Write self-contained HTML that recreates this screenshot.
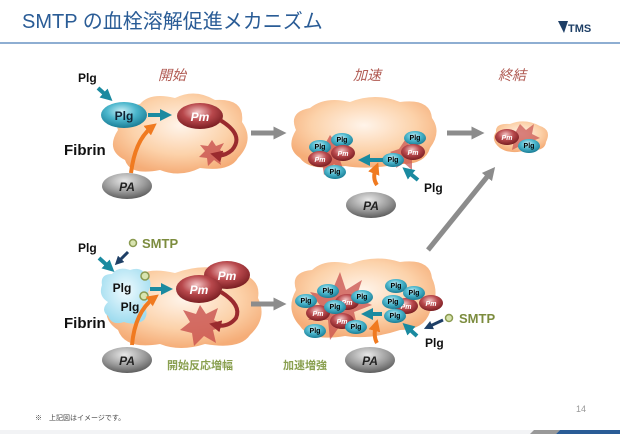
<!DOCTYPE html>
<html><head><meta charset="utf-8"><style>
body{margin:0;width:620px;height:434px;overflow:hidden;background:#fff;font-family:"Liberation Sans","Noto Sans CJK JP",sans-serif}
</style></head><body>
<svg width="620" height="434" viewBox="0 0 620 434" xmlns="http://www.w3.org/2000/svg" font-family="Liberation Sans, Noto Sans CJK JP, sans-serif">
<defs>
<radialGradient id="cl" cx="50%" cy="40%" r="60%"><stop offset="0" stop-color="#fff4ea"/><stop offset="0.6" stop-color="#fcd2aa"/><stop offset="1" stop-color="#f5ad78"/></radialGradient>
<radialGradient id="pl" cx="45%" cy="35%" r="65%"><stop offset="0" stop-color="#c8eef6"/><stop offset="0.5" stop-color="#4bb6cc"/><stop offset="1" stop-color="#1a7d96"/></radialGradient>
<radialGradient id="pm" cx="45%" cy="35%" r="65%"><stop offset="0" stop-color="#f4c6c6"/><stop offset="0.5" stop-color="#b8484c"/><stop offset="1" stop-color="#7a1e22"/></radialGradient>
<radialGradient id="pa" cx="45%" cy="30%" r="70%"><stop offset="0" stop-color="#e8e8e8"/><stop offset="0.6" stop-color="#9a9a9a"/><stop offset="1" stop-color="#5e5e5e"/></radialGradient>
<radialGradient id="lb" cx="50%" cy="40%" r="60%"><stop offset="0" stop-color="#f0fbff"/><stop offset="1" stop-color="#9fdcef"/></radialGradient>
<marker id="ta" viewBox="0 0 10 10" refX="5" refY="5" markerWidth="3" markerHeight="3" orient="auto"><path d="M0,0L10,5L0,10z" fill="#1a8aa0"/></marker>
<marker id="da" viewBox="0 0 10 10" refX="5" refY="5" markerWidth="3" markerHeight="3" orient="auto"><path d="M0,0L10,5L0,10z" fill="#1e3f66"/></marker>
<marker id="oa" viewBox="0 0 10 10" refX="5" refY="5" markerWidth="3" markerHeight="3" orient="auto"><path d="M0,0L10,5L0,10z" fill="#f07a20"/></marker>
<marker id="ra" viewBox="0 0 10 10" refX="5" refY="5" markerWidth="3" markerHeight="3" orient="auto"><path d="M0,0L10,5L0,10z" fill="#9a2a2e"/></marker>
<marker id="ga" viewBox="0 0 10 10" refX="5" refY="5" markerWidth="2.6" markerHeight="2.6" orient="auto"><path d="M0,0L10,5L0,10z" fill="#8c8c8c"/></marker>
</defs>
<text x="22" y="28" font-size="20" fill="#2a5c96">SMTP の血栓溶解促進メカニズム</text>
<rect x="0" y="42" width="620" height="2" fill="#8eaed2"/>
<text x="568" y="32" font-size="11" font-weight="bold" fill="#1e3f66">TMS</text>
<path d="M558,21 L568,21 L564,33 Z" fill="#1e3f66"/>

<g font-size="14" font-style="italic" fill="#b05a52">
<text x="158" y="80">開始</text><text x="353" y="80">加速</text><text x="498" y="80">終結</text>
</g>

<g>
<path d="M118,130 Q110,108 140,104 Q150,92 175,98 Q195,88 215,100 Q245,98 242,122 Q255,140 238,158 Q230,172 200,168 Q180,178 160,170 Q130,176 125,160 Q105,150 118,130Z" fill="url(#cl)"/>
<polygon points="212,140 216,146 224,143 220,150 227,154 219,157 221,165 214,160 208,166 207,158 199,157 205,151 200,145 208,146" fill="#c8504e" opacity="0.8"/>
<ellipse cx="124" cy="115" rx="23" ry="13" fill="url(#pl)"/>
<text x="124" y="120" font-size="12" font-weight="bold" fill="#123" text-anchor="middle">Plg</text>
<ellipse cx="200" cy="116" rx="23" ry="13" fill="url(#pm)"/>
<text x="200" y="121" font-size="12" font-weight="bold" font-style="italic" fill="#fff" text-anchor="middle">Pm</text>
<ellipse cx="127" cy="186" rx="25" ry="13" fill="url(#pa)"/>
<text x="127" y="191" font-size="12" font-weight="bold" font-style="italic" fill="#222" text-anchor="middle">PA</text>
<line x1="148" y1="115" x2="166" y2="115" stroke="#1a8aa0" stroke-width="4" marker-end="url(#ta)"/>
<line x1="98" y1="88" x2="108" y2="97" stroke="#1a8aa0" stroke-width="4" marker-end="url(#ta)"/>
<path d="M131,173 Q135,140 152,127" fill="none" stroke="#f07a20" stroke-width="4" marker-end="url(#oa)"/>
<path d="M220,120 Q245,135 232,150 Q224,157 216,155" fill="none" stroke="#9a2a2e" stroke-width="4" marker-end="url(#ra)"/>
<text x="78" y="82" font-size="12" font-weight="bold" fill="#111">Plg</text>
<text x="64" y="155" font-size="15" font-weight="bold" fill="#111">Fibrin</text>
</g>

<line x1="251" y1="133" x2="280" y2="133" stroke="#8c8c8c" stroke-width="5" marker-end="url(#ga)"/>
<line x1="447" y1="133" x2="478" y2="133" stroke="#8c8c8c" stroke-width="5" marker-end="url(#ga)"/>
<line x1="428" y1="250" x2="491" y2="172" stroke="#8c8c8c" stroke-width="5" marker-end="url(#ga)"/>

<g>
<path d="M296,130 Q288,112 310,108 Q325,96 350,102 Q375,92 400,102 Q430,98 432,118 Q442,132 430,148 Q425,165 400,164 Q370,170 345,166 Q310,172 300,158 Q285,148 296,130Z" fill="url(#cl)"/>
<polygon points="330,135 336,143 346,138 342,150 352,156 340,160 344,172 334,164 324,175 322,162 310,162 318,153 312,142 324,146" fill="#c8504e" opacity="0.75"/>
<polygon points="405,140 410,146 418,142 414,152 422,158 412,160 412,170 404,163 396,168 398,158 390,152 399,149" fill="#c8504e" opacity="0.7"/>
<g font-size="7" font-weight="bold" text-anchor="middle">
<ellipse cx="342" cy="140" rx="11" ry="7" fill="url(#pl)"/><text x="342" y="142">Plg</text>
<ellipse cx="320" cy="147" rx="11" ry="7" fill="url(#pl)"/><text x="320" y="149">Plg</text>
<ellipse cx="343" cy="153" rx="12" ry="8" fill="url(#pm)"/><text x="343" y="156" fill="#fff" font-style="italic">Pm</text>
<ellipse cx="320" cy="159" rx="12" ry="8" fill="url(#pm)"/><text x="320" y="162" fill="#fff" font-style="italic">Pm</text>
<ellipse cx="335" cy="172" rx="11" ry="7" fill="url(#pl)"/><text x="335" y="174">Plg</text>
<ellipse cx="415" cy="138" rx="11" ry="7" fill="url(#pl)"/><text x="415" y="140">Plg</text>
<ellipse cx="413" cy="152" rx="12" ry="8" fill="url(#pm)"/><text x="413" y="155" fill="#fff" font-style="italic">Pm</text>
<ellipse cx="393" cy="160" rx="11" ry="7" fill="url(#pl)"/><text x="393" y="162">Plg</text>
</g>
<line x1="383" y1="160" x2="364" y2="160" stroke="#1a8aa0" stroke-width="4" marker-end="url(#ta)"/>
<path d="M377,185 Q372,178 376,168" fill="none" stroke="#f07a20" stroke-width="4" marker-end="url(#oa)"/>
<line x1="418" y1="180" x2="407" y2="171" stroke="#1a8aa0" stroke-width="4" marker-end="url(#ta)"/>
<ellipse cx="371" cy="205" rx="25" ry="13" fill="url(#pa)"/>
<text x="371" y="210" font-size="12" font-weight="bold" font-style="italic" fill="#222" text-anchor="middle">PA</text>
<text x="424" y="192" font-size="12" font-weight="bold" fill="#111">Plg</text>
</g>

<g>
<path d="M496,132 Q495,123 510,124 Q525,118 540,126 Q552,130 546,142 Q545,152 528,150 Q510,155 500,148 Q490,140 496,132Z" fill="url(#cl)"/>
<polygon points="520,124 526,130 534,124 532,134 540,138 530,142 528,152 520,146 512,150 514,140 506,136 515,133" fill="#c8504e" opacity="0.7"/>
<ellipse cx="507" cy="137" rx="12" ry="8" fill="url(#pm)"/><text x="507" y="140" font-size="7" font-weight="bold" font-style="italic" fill="#fff" text-anchor="middle">Pm</text>
<ellipse cx="529" cy="146" rx="11" ry="7" fill="url(#pl)"/><text x="529" y="148" font-size="7" font-weight="bold" text-anchor="middle">Plg</text>
</g>

<g>
<path d="M110,300 Q105,282 130,280 Q145,266 175,273 Q205,262 230,272 Q262,275 258,298 Q268,318 250,335 Q240,350 205,344 Q180,352 160,344 Q125,350 118,330 Q100,318 110,300Z" fill="url(#cl)"/>
<polygon points="200,305 206,314 218,308 214,320 226,326 213,330 216,343 204,336 194,346 192,333 180,330 190,322 183,310 196,314" fill="#c8504e" opacity="0.8"/>
<path d="M102,285 Q100,274 112,274 Q118,266 130,270 Q142,266 146,276 Q154,282 148,292 Q152,302 142,304 Q150,312 144,320 Q136,326 124,322 Q112,326 108,316 Q100,310 108,302 Q98,296 102,285Z" fill="url(#lb)"/>
<circle cx="145" cy="276" r="4" fill="#d8e4b0" stroke="#8a9a50" stroke-width="1.5"/>
<circle cx="144" cy="296" r="4" fill="#d8e4b0" stroke="#8a9a50" stroke-width="1.5"/>
<text x="122" y="292" font-size="12" font-weight="bold" fill="#111" text-anchor="middle">Plg</text>
<text x="130" y="311" font-size="12" font-weight="bold" fill="#111" text-anchor="middle">Plg</text>
<ellipse cx="227" cy="275" rx="23" ry="14" fill="url(#pm)"/>
<text x="227" y="280" font-size="12" font-weight="bold" font-style="italic" fill="#fff" text-anchor="middle">Pm</text>
<ellipse cx="199" cy="289" rx="23" ry="14" fill="url(#pm)"/>
<text x="199" y="294" font-size="12" font-weight="bold" font-style="italic" fill="#fff" text-anchor="middle">Pm</text>
<line x1="150" y1="289" x2="167" y2="289" stroke="#1a8aa0" stroke-width="4" marker-end="url(#ta)"/>
<line x1="99" y1="258" x2="110" y2="268" stroke="#1a8aa0" stroke-width="4" marker-end="url(#ta)"/>
<line x1="128" y1="252" x2="118" y2="262" stroke="#1e3f66" stroke-width="3" marker-end="url(#da)"/>
<path d="M132,345 Q135,312 154,298" fill="none" stroke="#f07a20" stroke-width="4" marker-end="url(#oa)"/>
<path d="M221,292 Q242,305 236,318 Q228,328 215,325" fill="none" stroke="#9a2a2e" stroke-width="4" marker-end="url(#ra)"/>
<ellipse cx="127" cy="360" rx="25" ry="13" fill="url(#pa)"/>
<text x="127" y="365" font-size="12" font-weight="bold" font-style="italic" fill="#222" text-anchor="middle">PA</text>
<circle cx="133" cy="243" r="3.5" fill="#d8e4b0" stroke="#8a9a50" stroke-width="1.5"/>
<text x="142" y="248" font-size="13" font-weight="bold" fill="#7c8c3e">SMTP</text>
<text x="78" y="252" font-size="12" font-weight="bold" fill="#111">Plg</text>
<text x="64" y="328" font-size="15" font-weight="bold" fill="#111">Fibrin</text>
<text x="167" y="369" font-size="11" font-weight="bold" fill="#8aa050">開始反応増幅</text>
</g>

<line x1="251" y1="304" x2="280" y2="304" stroke="#8c8c8c" stroke-width="5" marker-end="url(#ga)"/>

<g>
<path d="M296,290 Q290,272 312,270 Q325,258 350,264 Q375,254 400,262 Q430,258 432,278 Q440,295 430,312 Q424,330 400,330 Q370,340 345,336 Q310,342 300,326 Q285,310 296,290Z" fill="url(#cl)"/>
<polygon points="340,272 346,290 362,280 356,298 372,305 354,312 358,330 344,320 330,340 328,320 308,320 322,308 310,292 330,296" fill="#c8504e" opacity="0.75"/>
<g font-size="7" font-weight="bold" text-anchor="middle">
<ellipse cx="318" cy="313" rx="12" ry="8" fill="url(#pm)"/><text x="318" y="316" fill="#fff" font-style="italic">Pm</text>
<ellipse cx="347" cy="302" rx="12" ry="8" fill="url(#pm)"/><text x="347" y="305" fill="#fff" font-style="italic">Pm</text>
<ellipse cx="342" cy="321" rx="12" ry="8" fill="url(#pm)"/><text x="342" y="324" fill="#fff" font-style="italic">Pm</text>
<ellipse cx="406" cy="306" rx="12" ry="8" fill="url(#pm)"/><text x="406" y="309" fill="#fff" font-style="italic">Pm</text>
<ellipse cx="431" cy="303" rx="12" ry="8" fill="url(#pm)"/><text x="431" y="306" fill="#fff" font-style="italic">Pm</text>
<ellipse cx="328" cy="291" rx="11" ry="7" fill="url(#pl)"/><text x="328" y="293">Plg</text>
<ellipse cx="306" cy="301" rx="11" ry="7" fill="url(#pl)"/><text x="306" y="303">Plg</text>
<ellipse cx="335" cy="307" rx="11" ry="7" fill="url(#pl)"/><text x="335" y="309">Plg</text>
<ellipse cx="362" cy="297" rx="11" ry="7" fill="url(#pl)"/><text x="362" y="299">Plg</text>
<ellipse cx="315" cy="331" rx="11" ry="7" fill="url(#pl)"/><text x="315" y="333">Plg</text>
<ellipse cx="356" cy="327" rx="11" ry="7" fill="url(#pl)"/><text x="356" y="329">Plg</text>
<ellipse cx="396" cy="286" rx="11" ry="7" fill="url(#pl)"/><text x="396" y="288">Plg</text>
<ellipse cx="414" cy="293" rx="11" ry="7" fill="url(#pl)"/><text x="414" y="295">Plg</text>
<ellipse cx="393" cy="302" rx="11" ry="7" fill="url(#pl)"/><text x="393" y="304">Plg</text>
<ellipse cx="395" cy="316" rx="11" ry="7" fill="url(#pl)"/><text x="395" y="318">Plg</text>
</g>
<line x1="382" y1="314" x2="367" y2="314" stroke="#1a8aa0" stroke-width="4" marker-end="url(#ta)"/>
<path d="M377,343 Q373,336 376,325" fill="none" stroke="#f07a20" stroke-width="4" marker-end="url(#oa)"/>
<line x1="417" y1="336" x2="407" y2="327" stroke="#1a8aa0" stroke-width="4" marker-end="url(#ta)"/>
<line x1="443" y1="320" x2="428" y2="327" stroke="#1e3f66" stroke-width="3" marker-end="url(#da)"/>
<ellipse cx="370" cy="360" rx="25" ry="13" fill="url(#pa)"/>
<text x="370" y="365" font-size="12" font-weight="bold" font-style="italic" fill="#222" text-anchor="middle">PA</text>
<circle cx="449" cy="318" r="3.5" fill="#d8e4b0" stroke="#8a9a50" stroke-width="1.5"/>
<text x="459" y="323" font-size="13" font-weight="bold" fill="#7c8c3e">SMTP</text>
<text x="425" y="347" font-size="12" font-weight="bold" fill="#111">Plg</text>
<text x="283" y="369" font-size="11" font-weight="bold" fill="#8aa050">加速増強</text>
</g>

<text x="35" y="420" font-size="7" fill="#444">※　上記図はイメージです。</text>
<text x="576" y="412" font-size="9" fill="#999">14</text>
<rect x="0" y="430" width="620" height="4" fill="#f2f3f5"/>
<path d="M530,434 L534,430 L560,430 L556,434Z" fill="#999"/>
<path d="M556,434 L560,430 L620,430 L620,434Z" fill="#2a5c96"/>
</svg>
</body></html>
